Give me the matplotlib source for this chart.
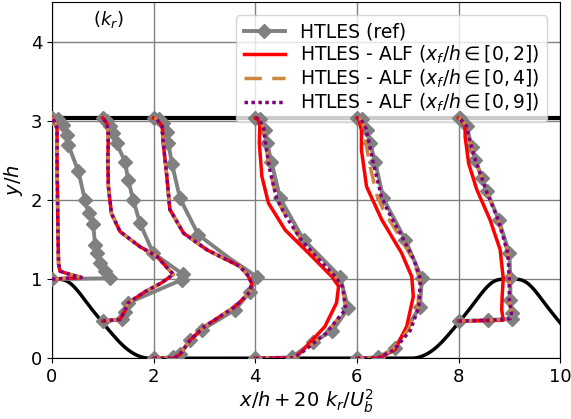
import numpy as np
import matplotlib.pyplot as plt

# stations x/h and k_r/U_b^2 profiles
stations = [0, 1, 2, 4, 6, 8]

ref_k = [
    [0, 0.057, 0.052, 0.047, 0.044, 0.0425, 0.0405, 0.036, 0.0325, 0.026, 0.016, 0.0145, 0.011, 0.006, 0],
    [0, 0.0185, 0.022, 0.025, 0.0775, 0.079, 0.0495, 0.0365, 0.030, 0.025, 0.022, 0.0135, 0.0105, 0.007, 0.004, 0],
    [0, 0.0195, 0.026, 0.036, 0.0475, 0.080, 0.095, 0.1015, 0.075, 0.044, 0.026, 0.018, 0.0145, 0.0135, 0.0095, 0.005, 0],
    [0, 0.036, 0.057, 0.0755, 0.0915, 0.0835, 0.0475, 0.0245, 0.016, 0.0115, 0.0095, 0.005, 0],
    [0, 0.021, 0.0375, 0.062, 0.064, 0.0475, 0.026, 0.018, 0.013, 0.010, 0.005, 0],
    [0, 0.0295, 0.0525, 0.053, 0.051, 0.051, 0.050, 0.0395, 0.028, 0.023, 0.0165, 0.013, 0.008, 0.0015, 0],
]
ref_y = [
    [1.0, 1.01, 1.10, 1.20, 1.33, 1.43, 1.69, 1.83, 2.0, 2.36, 2.70, 2.82, 2.95, 3.02, 3.036],
    [0.47, 0.49, 0.59, 0.70, 0.99, 1.06, 1.33, 1.71, 2.0, 2.25, 2.48, 2.72, 2.84, 2.93, 3.0, 3.036],
    [0, 0.01, 0.05, 0.23, 0.36, 0.61, 0.84, 1.03, 1.26, 1.56, 2.02, 2.46, 2.72, 2.86, 2.97, 3.02, 3.036],
    [0, 0.01, 0.21, 0.34, 0.63, 1.03, 1.50, 2.02, 2.48, 2.72, 2.88, 3.02, 3.036],
    [0, 0.01, 0.13, 0.65, 1.01, 1.50, 2.02, 2.48, 2.72, 2.88, 3.02, 3.036],
    [0.47, 0.48, 0.50, 0.57, 0.74, 1.01, 1.33, 1.75, 2.11, 2.28, 2.51, 2.67, 2.93, 3.03, 3.036],
]
# reference points drawn without a marker (index per station)
ref_nomark = {2: [8]}

alf2_k = [
    [0, 0.029, 0.0175, 0.008, 0.0065, 0.006, 0.0055, 0.005, 0.005, 0.003, 0],
    [0, 0.017, 0.021, 0.025, 0.0415, 0.0575, 0.0695, 0.065, 0.053, 0.0365, 0.017, 0.0085, 0.0055, 0.005, 0.0055, 0.004, 0],
    [0, 0.020, 0.026, 0.036, 0.050, 0.080, 0.095, 0.0965, 0.0925, 0.085, 0.0525, 0.0295, 0.016, 0.013, 0.0095, 0.0085, 0.0025, 0],
    [0, 0.039, 0.046, 0.0685, 0.080, 0.082, 0.0755, 0.0555, 0.0295, 0.013, 0.0065, 0.004, 0.0045, 0.0025, 0],
    [0, 0.0225, 0.0375, 0.049, 0.0555, 0.054, 0.044, 0.0245, 0.0095, 0.0045, 0.0045, 0.0015, 0],
    [0, 0.044, 0.0425, 0.043, 0.044, 0.041, 0.031, 0.018, 0.010, 0.0065, 0.0065, 0.0015, 0],
]
alf2_y = [
    [1.0, 1.02, 1.06, 1.10, 1.19, 1.5, 2.0, 2.5, 2.9, 2.98, 3.036],
    [0.47, 0.49, 0.58, 0.70, 0.84, 0.95, 1.06, 1.12, 1.29, 1.41, 1.60, 1.83, 2.17, 2.5, 2.84, 2.97, 3.036],
    [0, 0.0, 0.05, 0.23, 0.40, 0.65, 0.84, 0.95, 1.05, 1.16, 1.37, 1.58, 1.88, 2.30, 2.72, 2.93, 3.03, 3.036],
    [0, 0.005, 0.09, 0.40, 0.70, 0.91, 1.03, 1.29, 1.62, 1.96, 2.30, 2.72, 2.93, 3.03, 3.036],
    [0, 0.005, 0.11, 0.40, 0.78, 1.03, 1.33, 1.75, 2.17, 2.63, 2.88, 3.03, 3.036],
    [0.47, 0.48, 0.61, 0.80, 1.01, 1.37, 1.75, 2.13, 2.46, 2.80, 2.93, 3.03, 3.036],
]

alf9_k = [
    alf2_k[0],
    alf2_k[1],
    alf2_k[2],
    [0, 0.0375, 0.0475, 0.070, 0.089, 0.086, 0.079, 0.0625, 0.045, 0.030, 0.021, 0.014, 0.010, 0.0085, 0.004, 0],
    [0, 0.021, 0.036, 0.0525, 0.061, 0.0625, 0.056, 0.045, 0.031, 0.024, 0.0165, 0.012, 0.009, 0.004, 0],
    [0, 0.0295, 0.051, 0.052, 0.050, 0.050, 0.0485, 0.039, 0.0275, 0.0165, 0.011, 0.008, 0.0015, 0],
]
alf9_y = [
    alf2_y[0],
    alf2_y[1],
    alf2_y[2],
    [0, 0.005, 0.09, 0.32, 0.62, 0.90, 1.03, 1.25, 1.50, 1.80, 2.02, 2.40, 2.72, 2.90, 3.02, 3.036],
    [0, 0.005, 0.10, 0.35, 0.65, 1.0, 1.25, 1.52, 1.85, 2.05, 2.45, 2.72, 2.90, 3.02, 3.036],
    [0.47, 0.48, 0.50, 0.57, 0.74, 1.01, 1.33, 1.75, 2.11, 2.51, 2.75, 2.93, 3.03, 3.036],
]

alf4_k = [
    alf2_k[0],
    alf2_k[1],
    alf2_k[2],
    alf9_k[3],
    [0, 0.021, 0.034, 0.050, 0.060, 0.062, 0.055, 0.043, 0.027, 0.020, 0.0125, 0.009, 0.0075, 0.004, 0],
    alf9_k[5],
]
alf4_y = [alf2_y[0], alf2_y[1], alf2_y[2], alf9_y[3], alf9_y[4], alf9_y[5]]

top_wall = 3.036
scale = 20


def hill(x):
    # periodic hill geometry (Almeida et al.), h = 28 mm, period 9h
    X = (np.asarray(x) % 9.0) * 28.0
    X = np.where(X > 126.0, 252.0 - X, X)
    y = np.select(
        [X < 9, X < 14, X < 20, X < 30, X < 40, X < 54],
        [
            np.minimum(28.0, 28.0 + 6.775070969851e-3 * X**2 - 2.124527775800e-3 * X**3),
            25.07355893131 + 0.9754803562315 * X - 1.016116352781e-1 * X**2 + 1.889794677828e-3 * X**3,
            25.79601052357 + 0.8206693007457 * X - 9.055370274339e-2 * X**2 + 1.626510569859e-3 * X**3,
            40.46435022819 - 1.379581654948 * X + 1.945884504128e-2 * X**2 - 2.070318932190e-4 * X**3,
            17.92461334664 + 0.8743920332081 * X - 5.567361123058e-2 * X**2 + 6.277731764683e-4 * X**3,
            np.maximum(0.0, 56.39011190988 - 2.010520359035 * X + 1.644919857549e-2 * X**2 + 2.674976141766e-5 * X**3),
        ],
        default=0.0,
    )
    return y / 28.0


plt.rcParams["font.size"] = 13
fig = plt.figure(figsize=(5.71, 4.19), dpi=100)
ax = fig.add_axes([0.091, 0.145, 0.890, 0.850])

xs = np.linspace(0, 10, 600)
ax.plot(xs, hill(xs), color="black", lw=2.5, zorder=5)
ax.axhline(top_wall, color="black", lw=3, zorder=5)

for i, s in enumerate(stations):
    lab = i == 0
    marks = [j for j in range(len(ref_y[i])) if j not in ref_nomark.get(i, [])]
    ax.plot(s + scale * np.array(ref_k[i]), ref_y[i], color="gray", lw=2.8,
            marker="D", ms=7, markevery=marks,
            label="HTLES (ref)" if lab else None, zorder=6)
    ax.plot(s + scale * np.array(alf2_k[i]), alf2_y[i], color="red", lw=2.5,
            label=r"HTLES - ALF ($x_f/h \in [0,2]$)" if lab else None, zorder=7)
    ax.plot(s + scale * np.array(alf4_k[i]), alf4_y[i], color="peru", lw=2.5,
            ls=(0, (5, 3)), label=r"HTLES - ALF ($x_f/h \in [0,4]$)" if lab else None, zorder=8)
    ax.plot(s + scale * np.array(alf9_k[i]), alf9_y[i], color="purple", lw=2.5,
            ls=(0, (1, 1)), label=r"HTLES - ALF ($x_f/h \in [0,9]$)" if lab else None, zorder=9)

ax.set_xlim(0, 10)
ax.set_ylim(0, 4.5)
ax.set_xticks([0, 2, 4, 6, 8, 10])
ax.set_yticks([0, 1, 2, 3, 4])
ax.grid(True, color="gray", lw=1)
ax.set_axisbelow(True)
ax.set_xlabel(r"$x/h + 20\ k_r/U_b^2$", fontsize=14, labelpad=1)
ax.set_ylabel(r"$y/h$", fontsize=14)
ax.text(1.1, 4.28, r"$(k_r)$", ha="center", va="center", fontsize=13)
ax.legend(loc="upper right", fontsize=13.5, handlelength=2.2, borderaxespad=0.7,
          labelspacing=0.1, framealpha=0.8)

fig.savefig("out.png", dpi=100)
